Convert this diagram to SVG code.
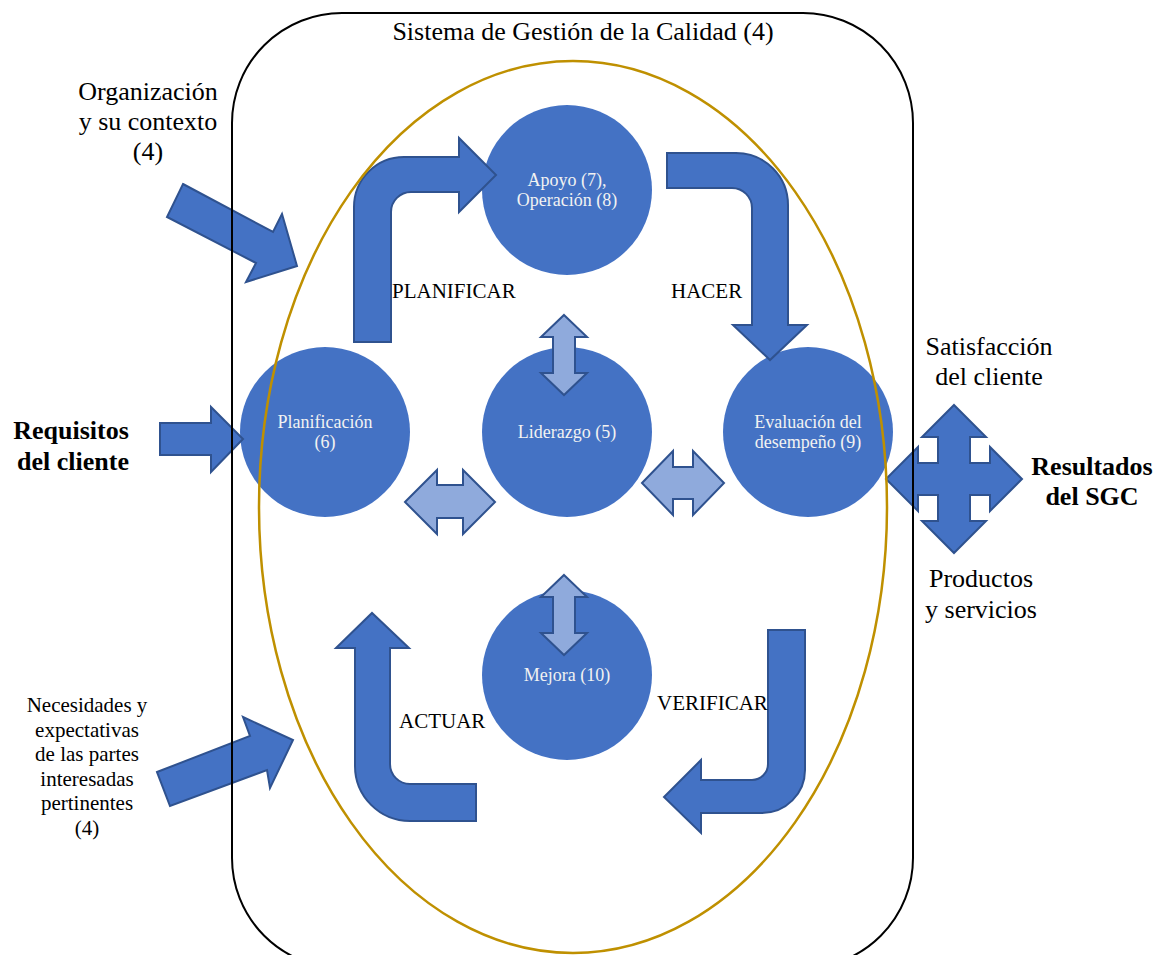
<svg xmlns="http://www.w3.org/2000/svg" width="1156" height="955" viewBox="0 0 1156 955">
  <style>
    .t { font-family: "Liberation Serif", "Times New Roman", serif; fill: #000; }
    .big { font-size: 26px; }
    .bold { font-weight: bold; }
    .phase { font-size: 21px; }
    .small { font-size: 21px; }
    .circ { fill: #4472C4; }
    .ct { font-family: "Liberation Serif", "Times New Roman", serif; font-size: 18px; fill: #F2F2F2; text-anchor: middle; }
    .arrow { fill: #4472C4; stroke: #2F528F; stroke-width: 2; stroke-linejoin: miter; }
    .link { fill: #8FAADC; stroke: #2F528F; stroke-width: 2; stroke-linejoin: miter; }
    .frame { fill: none; stroke: #000; stroke-width: 2; }
    .oval { fill: none; stroke: #BF9000; stroke-width: 2.5; }
  </style>
  <rect width="1156" height="955" fill="#fff"/>

  <!-- process circles -->
  <g id="apoyo">
    <circle class="circ" cx="567" cy="190" r="85"/>
    <text class="ct" x="567" y="186">Apoyo (7),</text>
    <text class="ct" x="567" y="206">Operación (8)</text>
  </g>
  <g id="planificacion">
    <circle class="circ" cx="325" cy="432" r="85"/>
    <text class="ct" x="325" y="428">Planificación</text>
    <text class="ct" x="325" y="448">(6)</text>
  </g>
  <g id="liderazgo">
    <circle class="circ" cx="567" cy="432" r="85"/>
    <text class="ct" x="567" y="438">Liderazgo (5)</text>
  </g>
  <g id="evaluacion">
    <circle class="circ" cx="808" cy="432" r="85"/>
    <text class="ct" x="808" y="428">Evaluación del</text>
    <text class="ct" x="808" y="448">desempeño (9)</text>
  </g>
  <g id="mejora">
    <circle class="circ" cx="567" cy="675" r="85"/>
    <text class="ct" x="567" y="681">Mejora (10)</text>
  </g>

  <!-- arrows -->
  <g id="connectors">
    <!-- PHVA cycle -->
    <path class="arrow" d="M354,342 V207 A50,50 0 0 1 404,157 H459 V138 L496,175 L459,212 V192 H411 A20,20 0 0 0 391,212 V342 Z"/>
    <path class="arrow" d="M667,153 H736 A52,52 0 0 1 788,205 V325 H807 L770,360 L733,325 H752 V208 A20,20 0 0 0 732,188 H667 Z"/>
    <path class="arrow" d="M768,630 H805 V770 A43,43 0 0 1 762,813 H701 V833 L664,797 L701,760 V780 H752 A16,16 0 0 0 768,764 Z"/>
    <path class="arrow" d="M476,784 H410 A20,20 0 0 1 390,764 V648 H409 L372,613 L336,648 H355 V766 A55,55 0 0 0 410,821 H476 Z"/>
    <!-- inputs -->
    <polygon class="arrow" points="183,184 273,232 282,214 297,266 246,282 256,263 167,217"/>
    <path class="arrow" d="M160,423 H211 V407 L243,439 L211,472 V455 H160 Z"/>
    <polygon class="arrow" points="157,772 250,736 243,717 293,740 270,788 267,770 170,806"/>
    <!-- outputs -->
    <polygon class="arrow" points="954,405 986,437 970,437 970,463 990,463 990,447 1022,479 990,511 990,495 970,495 970,521 986,521 954,553 922,521 938,521 938,495 918,495 918,511 886,479 918,447 918,463 938,463 938,437 922,437"/>
    <!-- leadership links -->
    <polygon class="link" points="564,315 587,337 575,337 575,373 587,373 564,395 541,373 553,373 553,337 541,337"/>
    <polygon class="link" points="564,575 587,597 575,597 575,633 587,633 564,655 541,633 553,633 553,597 541,597"/>
    <polygon class="link" points="405,502 437,470 437,485 463,485 463,470 495,502 463,534 463,518 437,518 437,534"/>
    <polygon class="link" points="642,483 673,451 673,467 693,467 693,451 724,483 693,515 693,499 673,499 673,515"/>
  </g>

  <!-- system boundary -->
  <g id="sistema">
    <rect class="frame" x="232" y="13" width="681" height="955" rx="110" ry="110"/>
    <ellipse class="oval" cx="573" cy="507" rx="314" ry="446"/>
    <text class="t big" x="583" y="40" text-anchor="middle">Sistema de Gestión de la Calidad (4)</text>
  </g>

  <!-- phase labels -->
  <g id="fases">
    <text class="t phase" x="392" y="298">PLANIFICAR</text>
    <text class="t phase" x="671" y="298">HACER</text>
    <text class="t phase" x="399" y="728">ACTUAR</text>
    <text class="t phase" x="657" y="710">VERIFICAR</text>
  </g>

  <!-- external labels -->
  <g id="contexto">
    <text class="t big" x="148" y="100" text-anchor="middle">Organización</text>
    <text class="t big" x="148" y="130" text-anchor="middle">y su contexto</text>
    <text class="t big" x="148" y="160" text-anchor="middle">(4)</text>
  </g>
  <g id="requisitos">
    <text class="t big bold" x="71" y="439" text-anchor="middle">Requisitos</text>
    <text class="t big bold" x="73" y="470" text-anchor="middle">del cliente</text>
  </g>
  <g id="partes">
    <text class="t small" x="87" y="712" text-anchor="middle">Necesidades y</text>
    <text class="t small" x="87" y="736.6" text-anchor="middle">expectativas</text>
    <text class="t small" x="87" y="761.2" text-anchor="middle">de las partes</text>
    <text class="t small" x="87" y="785.8" text-anchor="middle">interesadas</text>
    <text class="t small" x="87" y="810.4" text-anchor="middle">pertinentes</text>
    <text class="t small" x="87" y="835" text-anchor="middle">(4)</text>
  </g>
  <g id="satisfaccion">
    <text class="t big" x="989" y="355" text-anchor="middle">Satisfacción</text>
    <text class="t big" x="989" y="385" text-anchor="middle">del cliente</text>
  </g>
  <g id="resultados">
    <text class="t big bold" x="1092" y="475" text-anchor="middle">Resultados</text>
    <text class="t big bold" x="1092" y="505" text-anchor="middle">del SGC</text>
  </g>
  <g id="productos">
    <text class="t big" x="981" y="587" text-anchor="middle">Productos</text>
    <text class="t big" x="981" y="618" text-anchor="middle">y servicios</text>
  </g>
</svg>
